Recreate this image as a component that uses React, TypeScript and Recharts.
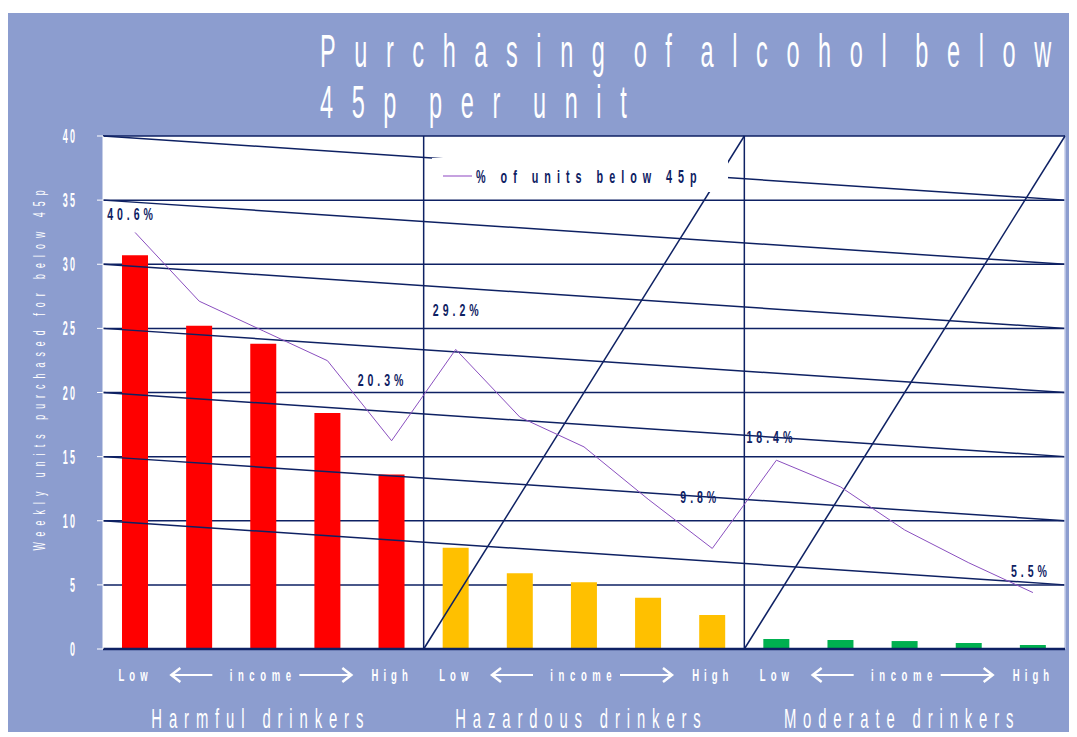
import {
  ComposedChart,
  Bar,
  Line,
  XAxis,
  YAxis,
  CartesianGrid,
  ReferenceLine,
  Legend,
  LabelList,
  Cell,
} from "recharts";

const groupNames = ["Harmful drinkers", "Hazardous drinkers", "Moderate drinkers"];
const incomeTicks = ["Low", "", "income", "", "High"];
const groupColors = ["#ff0000", "#ffc000", "#00b050"];

// weekly units purchased for below 45p
const harmfulUnits = [30.7, 25.2, 23.8, 18.4, 13.6];
const hazardousUnits = [7.9, 5.9, 5.2, 4.0, 2.65];
const moderateUnits = [0.78, 0.7, 0.62, 0.47, 0.31];

// % of units below 45p
const harmfulPct = [40.6, 33.9, 31.0, 28.1, 20.3];
const hazardousPct = [29.2, 22.6, 19.7, 14.6, 9.8];
const moderatePct = [18.4, 15.8, 11.6, 8.4, 5.5];

const unitTicks = [0, 5, 10, 15, 20, 25, 30, 35, 40];

// leftover 3D perspective lines from the original export (slot 0..15, units)
const slantLines = [
  [40, 35],
  [35, 30],
  [30, 25],
  [25, 20],
  [20, 15],
  [15, 10],
  [10, 5],
];
const groupDividers = [5, 10];
const steepLines = [
  [5, 10],
  [10, 15],
];

const BG = "#8c9dcf";
const NAVY = "#0e2163";
const PURPLE = "#8a4fbf";
const FONT = "'Liberation Sans', Arial, sans-serif";

const unitsByGroup = [harmfulUnits, hazardousUnits, moderateUnits];
const pctByGroup = [harmfulPct, hazardousPct, moderatePct];

const data = groupNames.flatMap((group, gi) =>
  incomeTicks.map((tick, i) => ({
    id: `${gi}-${i}`,
    group,
    gi,
    tick,
    slot: gi * 5 + i + 0.5,
    units: unitsByGroup[gi][i],
    pct: pctByGroup[gi][i],
  }))
);

// where each end label sits relative to its point (dx, dy to baseline)
const labelOffsets: Record<number, [number, number]> = {
  0: [-5, -12],
  4: [-11, -55],
  5: [0, -33],
  9: [-14, -45],
  10: [-7, -17],
  14: [-4, -16],
};

// the original uses a very condensed, widely tracked face: squash Liberation Sans
function Squash(props: any) {
  const {
    x,
    y,
    sx,
    size,
    ls,
    ws = 0,
    anchor = "start",
    fill = "#fff",
    weight = "normal",
    rotate = 0,
    children,
  } = props;
  const shift = anchor === "middle" ? ls / 2 : anchor === "end" ? ls : 0;
  return (
    <g transform={`translate(${x},${y}) rotate(${rotate}) scale(${sx},1)`}>
      <text
        x={shift}
        y={0}
        fontFamily={FONT}
        fontSize={size}
        letterSpacing={ls}
        wordSpacing={ws}
        textAnchor={anchor}
        fill={fill}
        fontWeight={weight}
      >
        {children}
      </text>
    </g>
  );
}

function IncomeTick(props: any) {
  const { x, y, payload } = props;
  const row = data.find((d) => d.id === payload.value);
  if (!row || !row.tick) return null;
  if (row.tick !== "income") {
    return (
      <Squash x={x - 2} y={y + 32} sx={0.56} size={17} ls={9} anchor="middle" weight="bold">
        {row.tick}
      </Squash>
    );
  }
  const ay = y + 26;
  return (
    <g>
      <Squash x={x - 3} y={y + 32} sx={0.56} size={17} ls={10} anchor="middle" weight="bold">
        income
      </Squash>
      <line x1={x - 92} y1={ay} x2={x - 51} y2={ay} stroke="#fff" strokeWidth={2} />
      <polyline
        points={`${x - 83},${ay - 7} ${x - 92},${ay} ${x - 83},${ay + 7}`}
        fill="none"
        stroke="#fff"
        strokeWidth={2.5}
      />
      <line x1={x + 36} y1={ay} x2={x + 88} y2={ay} stroke="#fff" strokeWidth={2} />
      <polyline
        points={`${x + 79},${ay - 7} ${x + 88},${ay} ${x + 79},${ay + 7}`}
        fill="none"
        stroke="#fff"
        strokeWidth={2.5}
      />
      <Squash x={x - 6} y={y + 79} sx={0.55} size={27} ls={12.5} anchor="middle">
        {row.group}
      </Squash>
    </g>
  );
}

function UnitTick(props: any) {
  const { x, y, payload } = props;
  return (
    <Squash x={x} y={y + 7} sx={0.45} size={20} ls={5} anchor="end" weight="bold">
      {payload.value}
    </Squash>
  );
}

function PctLabel(props: any) {
  const { x, y, index, value } = props;
  const off = labelOffsets[index];
  if (!off) return null;
  return (
    <Squash
      x={x + off[0]}
      y={y + off[1]}
      sx={0.66}
      size={16}
      ls={6}
      anchor="middle"
      fill={NAVY}
      weight="bold"
    >
      {`${Number(value).toFixed(1)}%`}
    </Squash>
  );
}

function PctLegend() {
  return (
    <svg width={296} height={34} style={{ display: "block" }}>
      <rect width={296} height={34} fill="#fff" />
      <line x1={11} y1={18} x2={40} y2={18} stroke="#b383d6" strokeWidth={1.5} />
      <Squash x={44} y={24.5} sx={0.6} size={18} ls={10} fill={NAVY} weight="bold">
        % of units below 45p
      </Squash>
    </svg>
  );
}

export default function App() {
  return (
    <div
      style={{
        position: "relative",
        top: 5,
        width: 1069,
        height: 724,
        background: BG,
        overflow: "hidden",
      }}
    >
      <svg
        width={1069}
        height={120}
        style={{ position: "absolute", left: 0, top: 0, zIndex: 2, pointerEvents: "none" }}
      >
        <Squash x={312} y={54} sx={0.5} size={47} ls={37.2} ws={-30}>
          Purchasing of alcohol below
        </Squash>
        <Squash x={312} y={105} sx={0.5} size={47} ls={37.2} ws={-22}>
          45p per unit
        </Squash>
      </svg>
      <ComposedChart
        width={1069}
        height={724}
        data={data}
        margin={{ top: 123, right: 12, bottom: 8, left: 55 }}
      >
        <CartesianGrid
          xAxisId="cat"
          yAxisId="units"
          vertical={false}
          stroke={NAVY}
          strokeWidth={1.5}
          fill="#fff"
          fillOpacity={1}
        />
        <XAxis
          xAxisId="cat"
          dataKey="id"
          interval={0}
          height={80}
          tickSize={0}
          tickMargin={0}
          tickLine={false}
          axisLine={{ stroke: NAVY, strokeWidth: 2.5 }}
          tick={<IncomeTick />}
        />
        <XAxis xAxisId="geo" dataKey="slot" type="number" domain={[0, 15]} allowDataOverflow hide />
        <YAxis
          yAxisId="units"
          domain={[0, 40]}
          ticks={unitTicks}
          width={40}
          tickSize={6}
          tickMargin={22}
          tickLine={{ stroke: "#fff" }}
          axisLine={{ stroke: "#fff" }}
          tick={<UnitTick />}
          label={(p: any) => {
            const vb = p.viewBox;
            return (
              <Squash
                x={vb.x - 18}
                y={vb.y + vb.height / 2 - 22}
                rotate={-90}
                sx={0.55}
                size={16}
                ls={11}
                anchor="middle"
              >
                Weekly units purchased for below 45p
              </Squash>
            );
          }}
        />
        <YAxis yAxisId="pct" orientation="right" domain={[0, 50]} hide />
        {slantLines.map(([a, b], i) => (
          <ReferenceLine
            key={`s${i}`}
            xAxisId="geo"
            yAxisId="units"
            segment={[
              { x: 0, y: a },
              { x: 15, y: b },
            ]}
            stroke={NAVY}
            strokeWidth={1.5}
          />
        ))}
        {groupDividers.map((v) => (
          <ReferenceLine key={`d${v}`} xAxisId="geo" yAxisId="units" x={v} stroke={NAVY} strokeWidth={1.5} />
        ))}
        <ReferenceLine xAxisId="geo" yAxisId="units" x={15} stroke="#c5cde8" strokeWidth={1.5} />
        {steepLines.map(([a, b], i) => (
          <ReferenceLine
            key={`t${i}`}
            xAxisId="geo"
            yAxisId="units"
            segment={[
              { x: a, y: 0 },
              { x: b, y: 40 },
            ]}
            stroke={NAVY}
            strokeWidth={1.5}
          />
        ))}
        <Bar xAxisId="cat" yAxisId="units" dataKey="units" barSize={26} isAnimationActive={false}>
          {data.map((d) => (
            <Cell key={d.id} fill={groupColors[d.gi]} />
          ))}
        </Bar>
        <Line
          xAxisId="cat"
          yAxisId="pct"
          dataKey="pct"
          type="linear"
          stroke={PURPLE}
          strokeWidth={1}
          dot={false}
          activeDot={false}
          isAnimationActive={false}
        >
          <LabelList dataKey="pct" content={<PctLabel />} />
        </Line>
        <Legend
          layout="vertical"
          align="center"
          verticalAlign="middle"
          wrapperStyle={{ position: "absolute", left: 424, top: 145, width: 296, height: 34 }}
          content={<PctLegend />}
        />
      </ComposedChart>
    </div>
  );
}
